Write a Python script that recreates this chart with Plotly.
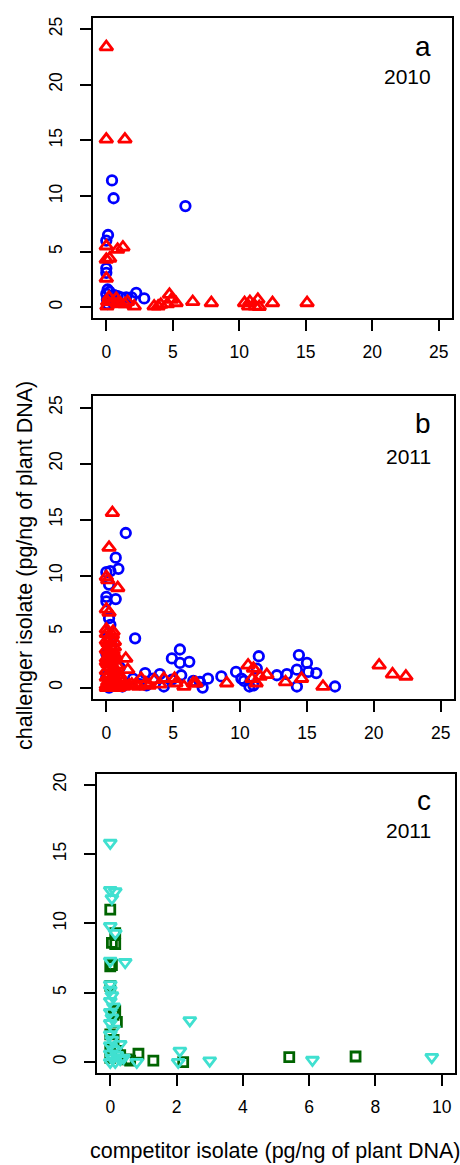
import plotly.graph_objects as go

# ---------------- data ----------------
# panel a (2010)
a_circ_x = [0.43, 0.55, 5.95, 0.13, 0.0, 0.0, 0.0, 0.0, 0.1, 0.25, 0.6, 0.85, 1.1, 1.5, 1.9, 2.25, 2.85, 0.05, 0.1, 0.4]
a_circ_y = [11.4, 9.8, 9.1, 6.5, 6.0, 3.5, 3.1, 1.2, 1.6, 1.4, 1.1, 1.0, 0.9, 0.9, 0.9, 1.3, 0.8, 0.7, 0.3, 0.5]
a_tri_x = [0.0, 0.0, 1.4, 0.0, 1.25, 0.85, 0.0, 0.25, 0.0, 0.1, 0.05, 0.2, 0.5, 0.75, 0.9, 1.1, 1.4, 1.6, 2.1,
           3.6, 3.9, 4.1, 4.6, 4.75, 4.9, 5.25, 6.5, 7.9, 10.4, 10.7, 10.8, 11.2, 11.4, 11.5, 12.5, 15.1]
a_tri_y = [23.4, 15.1, 15.1, 5.5, 5.4, 5.2, 4.3, 4.4, 2.6, 0.5, 0.1, 0.9, 0.5, 0.8, 0.4, 0.3, 0.3, 0.5, 0.1,
           0.1, 0.1, 0.25, 0.3, 1.15, 0.7, 0.4, 0.5, 0.4, 0.4, 0.1, 0.5, 0.1, 0.7, 0.05, 0.4, 0.4]

# panel b (2011)
b_circ_x = [1.45, 0.7, 0.9, 0.0, 0.3, 0.2, 0.0, 0.7, 0.0, 0.2, 0.3, 0.1, 0.4, 0.0, 0.6, 0.2, 1.0, 0.0, 0.5, 0.2,
            1.2, 2.15, 4.9, 5.5, 5.5, 6.2, 5.6, 2.0, 2.9, 4.0, 3.0, 4.3, 4.9, 2.5, 3.5, 6.5, 7.2, 7.6, 7.0, 8.6,
            9.7, 10.1, 10.7, 11.4, 11.25, 10.3, 11.0, 12.75, 13.5, 14.4, 14.25, 14.25, 15.0, 15.1, 15.7, 17.1]
b_circ_y = [13.8, 11.6, 10.6, 10.3, 10.4, 9.2, 8.1, 7.9, 7.7, 6.2, 5.6, 4.5, 3.8, 3.0, 2.5, 1.9, 1.8, 1.0, 0.5, 0.0,
            0.1, 4.4, 2.6, 3.4, 2.2, 2.3, 1.1, 0.8, 1.3, 1.2, 0.2, 0.1, 0.7, 0.3, 0.8, 0.6, 0.0, 0.8, 0.5, 1.0,
            1.4, 0.8, 0.1, 2.8, 1.7, 0.6, 0.2, 1.1, 1.2, 2.9, 1.6, 0.1, 2.2, 1.4, 1.3, 0.1]
b_tri_x = [0.45, 0.2, 0.0, 0.1, 0.85, 0.0, 0.2, 0.0, 0.5, 0.0, 0.45, 0.6, 0.1, 0.3, 0.0, 0.5, 0.2, 0.7, 0.0, 0.4,
           0.1, 0.8, 0.3, 0.0, 0.6, 0.2, 1.0, 0.0, 0.4, 0.8, 0.1, 1.2, 0.0, 0.5, 1.4, 1.7, 0.2, 0.9, 1.45, 1.6,
           2.6, 2.95, 2.2, 3.6, 4.3, 5.1, 5.2, 4.0, 6.5, 6.7, 5.8, 9.0, 10.6, 11.0, 10.9, 11.2, 11.5, 12.0, 13.4,
           14.6, 16.2, 20.4, 21.4, 22.4,
           0.0, 0.3, 0.6, 0.15, 0.45, 0.0, 0.35, 0.7, 0.1, 0.55, 0.25, 0.9, 1.1, 0.0, 0.4, 0.75, 1.3, 1.9, 2.4, 3.2]
b_tri_y = [15.6, 12.5, 9.9, 9.6, 8.9, 7.0, 6.7, 5.2, 5.0, 4.8, 4.7, 4.1, 4.0, 3.7, 3.4, 3.3, 3.0, 2.8, 2.6, 2.4,
           2.1, 2.0, 1.8, 1.5, 1.4, 1.2, 1.1, 0.9, 0.8, 0.6, 0.5, 0.5, 0.2, 0.2, 0.3, 0.2, 0.0, 0.0, 2.6, 1.6,
           0.8, 0.4, 0.3, 0.7, 0.8, 0.8, 0.4, 0.3, 0.4, 0.4, 0.1, 0.4, 2.0, 1.7, 0.8, 0.4, 1.0, 1.15, 0.5,
           0.8, 0.1, 2.0, 1.2, 1.0,
           4.2, 4.4, 3.6, 3.2, 2.9, 2.3, 2.2, 1.6, 1.0, 1.0, 0.6, 0.3, 0.7, 0.0, 0.0, 0.4, 0.1, 0.3, 0.1, 0.2]

# panel c (2011)
c_sq_x = [0.0, 0.15, 0.15, 0.05, 0.0, 0.05, 0.0, 0.15, 0.1, 0.2, 0.0, 0.1, 0.0, 0.2, 0.3, 0.0, 0.5, 0.6, 0.85,
          1.3, 2.2, 5.4, 7.4]
c_sq_y = [11.0, 9.3, 8.5, 8.6, 6.9, 7.0, 5.5, 3.7, 3.4, 2.9, 2.0, 1.6, 1.0, 0.8, 0.5, 0.3, 0.2, 0.1, 0.6,
          0.1, 0.0, 0.35, 0.4]
c_tri_x = [0.0, 0.0, 0.15, 0.05, 0.0, 0.15, 0.0, 0.45, 0.0, 0.0, 0.05, 0.0, 0.1, 0.0, 0.05, 0.0, 0.1, 0.0,
           0.05, 0.3, 0.0, 0.1, 0.0, 0.2, 0.05, 0.3, 0.0, 0.15, 0.4, 0.8, 2.4, 2.1, 2.05, 3.0, 6.1, 9.7]
c_tri_y = [15.8, 12.4, 12.3, 11.8, 9.8, 9.3, 7.3, 7.2, 5.6, 5.2, 4.8, 4.4, 4.0, 3.6, 3.2, 2.8, 2.4, 2.0,
           1.6, 1.3, 1.2, 0.9, 0.6, 0.5, 0.3, 0.2, 0.0, 0.0, 0.3, 0.0, 3.0, 0.8, 0.0, 0.1, 0.15, 0.35]

ab_ticks = [0, 5, 10, 15, 20, 25]
c_xticks = [0, 2, 4, 6, 8, 10]
c_yticks = [0, 5, 10, 15, 20]
panel_labels = ["a", "b", "c"]
panel_years = ["2010", "2011", "2011"]
x_title = "competitor isolate (pg/ng of plant DNA)"
y_title = "challenger isolate (pg/ng of plant DNA)"

# ---------------- figure ----------------
W, H = 460, 1165
FONT = "Liberation Sans, Arial, Helvetica, sans-serif"

def px_x(p):
    return p / W

def px_y(p):
    return 1 - p / H

# pixel boxes (left, right, top, bottom)
boxes = [(93, 452, 16, 317), (93, 454, 395, 698), (97, 455, 773, 1073)]

fig = go.Figure()

def add(x, y, sym, color, size, ax):
    fig.add_trace(go.Scatter(
        x=x, y=y, mode="markers", xaxis="x" + ax, yaxis="y" + ax, showlegend=False,
        cliponaxis=False,
        marker=dict(symbol=sym, size=size, color=color,
                    line=dict(color=color, width=2.8))))

add(a_circ_x, a_circ_y, "circle-open", "#0000FF", 9.5, "")
add(a_tri_x, a_tri_y, "triangle-up-open", "#FF0000", 11.5, "")
add(b_circ_x, b_circ_y, "circle-open", "#0000FF", 9.5, "2")
add(b_tri_x, b_tri_y, "triangle-up-open", "#FF0000", 11.5, "2")
add(c_sq_x, c_sq_y, "square-open", "#006400", 9, "3")
add(c_tri_x, c_tri_y, "triangle-down-open", "#40E0D0", 11, "3")

def axis_common():
    return dict(showline=True, mirror=True, linewidth=2, linecolor="black",
                ticks="outside", ticklen=11, tickwidth=2, tickcolor="black",
                showgrid=False, zeroline=False,
                tickfont=dict(family=FONT, size=17.5, color="black"))

ranges = [((-1, 26), (-1, 26), ab_ticks, ab_ticks),
          ((-1, 26), (-1, 26), ab_ticks, ab_ticks),
          ((-0.4, 10.4), (-0.8, 20.8), c_xticks, c_yticks)]

layout = dict(width=W, height=H, margin=dict(l=0, r=0, t=0, b=0),
              paper_bgcolor="white", plot_bgcolor="white", showlegend=False)
for i, (bx, rg) in enumerate(zip(boxes, ranges)):
    l, r, t, b = bx
    suf = "" if i == 0 else str(i + 1)
    xa = axis_common()
    xa.update(domain=[px_x(l), px_x(r)], range=list(rg[0]), tickvals=rg[2],
              anchor="y" + suf, ticklabelstandoff=6)
    ya = axis_common()
    ya.update(domain=[px_y(b), px_y(t)], range=list(rg[1]), tickvals=rg[3],
              anchor="x" + suf, tickangle=-90, ticklabelstandoff=11)
    layout["xaxis" + suf] = xa
    layout["yaxis" + suf] = ya

fig.update_layout(**layout)

lab_pos = [(433, 45, 75), (433, 422, 455), (433, 800, 830)]
for i, (xr, yl, yy) in enumerate(lab_pos):
    fig.add_annotation(text=panel_labels[i], x=px_x(xr), y=px_y(yl), xref="paper", yref="paper",
                       xanchor="right", yanchor="middle", showarrow=False,
                       font=dict(family=FONT, size=28, color="black"))
    fig.add_annotation(text=panel_years[i], x=px_x(xr), y=px_y(yy), xref="paper", yref="paper",
                       xanchor="right", yanchor="middle", showarrow=False,
                       font=dict(family=FONT, size=21, color="black"))

fig.add_annotation(text=y_title, x=px_x(25), y=px_y(565), xref="paper", yref="paper",
                   textangle=-90, xanchor="center", yanchor="middle", showarrow=False,
                   font=dict(family=FONT, size=21.5, color="black"))
fig.add_annotation(text=x_title, x=px_x(275), y=0, xref="paper", yref="paper",
                   xanchor="center", yanchor="bottom", showarrow=False,
                   font=dict(family=FONT, size=21.5, color="black"))

fig.write_html("out.html", config={"displayModeBar": False},
               post_script="document.body.style.margin='0';document.body.style.overflow='hidden';")
